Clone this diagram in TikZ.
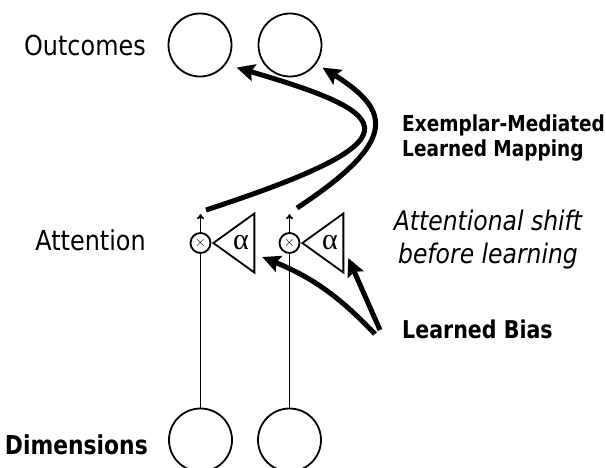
\documentclass[tikz,border=0pt]{standalone}
\usepackage{fontspec}
\setmainfont{DejaVu Sans}[FakeStretch=0.87, BoldFeatures={FakeStretch=0.84}]
\newfontfamily\greekfont{Liberation Serif}
\usetikzlibrary{arrows.meta,shapes.geometric}

\begin{document}
\begin{tikzpicture}[x=1pt, y=-1pt, line width=1.8pt,
  bigtext/.style={font=\fontsize{27.5}{33}\selectfont},
  smallbold/.style={font=\fontsize{22}{25}\selectfont\bfseries},
  unit/.style={draw, circle, minimum size=63pt, inner sep=0pt},
  mult/.style={draw, circle, minimum size=20pt, inner sep=0pt,
    font=\fontsize{15}{15}\selectfont},
  gain/.style={draw, isosceles triangle, isosceles triangle stretches,
    shape border rotate=180, minimum width=59pt, minimum height=41pt,
    inner sep=0pt, anchor=apex, font=\greekfont\fontsize{30}{30}\selectfont},
  mapline/.style={arrows={-Stealth[length=18pt,width=17pt,inset=3pt]},
    line width=5pt}]
\useasboundingbox (0,0) rectangle (606,467);

\node[unit] at (200,45) (outA) {};
\node[unit] at (290,45) (outB) {};
\node[unit] at (200.5,440) (dimA) {};
\node[unit] at (289.5,440) (dimB) {};

\node[mult] at (200.5,243) (multA) {$\times$};
\node[mult] at (289.5,243) (multB) {$\times$};
\node[gain] at (211,243) (gainA) {α};
\node[gain] at (300,243) (gainB) {α};

\node[bigtext, anchor=base east] at (150,55) (outcomes) {Outcomes};
\node[bigtext, anchor=base east] at (150,250) (attention) {Attention};
\node[font=\fontsize{26}{33}\selectfont\bfseries, anchor=base east]
  at (152,454) (dimensions) {Dimensions};
\node[smallbold, anchor=west, align=left] at (398,138) (mapping)
  {Exemplar-Mediated\\Learned Mapping};
\node[font=\fontsize{27}{33}\selectfont\itshape, align=center] at (488,240) (shift)
  {Attentional shift\\before learning};
\node[font=\fontsize{24.5}{25}\selectfont\bfseries, anchor=base west]
  at (398,338) (bias) {Learned Bias};

\coordinate (upA) at ([yshift=18pt]multA.north);
\coordinate (upB) at ([yshift=18pt]multB.north);
\coordinate (mapA) at (206,210);
\coordinate (mapB) at (297,208);
\coordinate (forkA) at (375,334);
\coordinate (forkB) at (380,330);

\draw (dimA) -- (multA);
\draw (dimB) -- (multB);
\draw[-{To[length=5pt,width=7pt]}] (multA) -- (upA);
\draw[-{To[length=5pt,width=7pt]}] (multB) -- (upB);

\draw[mapline] (mapA) .. controls (420,140) and (400,115)
  .. ([shift={(10pt,-4pt)}]outA.-35);
\draw[mapline] (mapB) .. controls (400,140) and (390,110)
  .. ([shift={(6pt,-4pt)}]outB.-35);
\draw[mapline] (forkA) to[bend right=12] ([xshift=7pt,yshift=-14pt]gainA.east);
\draw[mapline] (forkB) -- ([xshift=4pt,yshift=-15pt]gainB.east);
\end{tikzpicture}
\end{document}
